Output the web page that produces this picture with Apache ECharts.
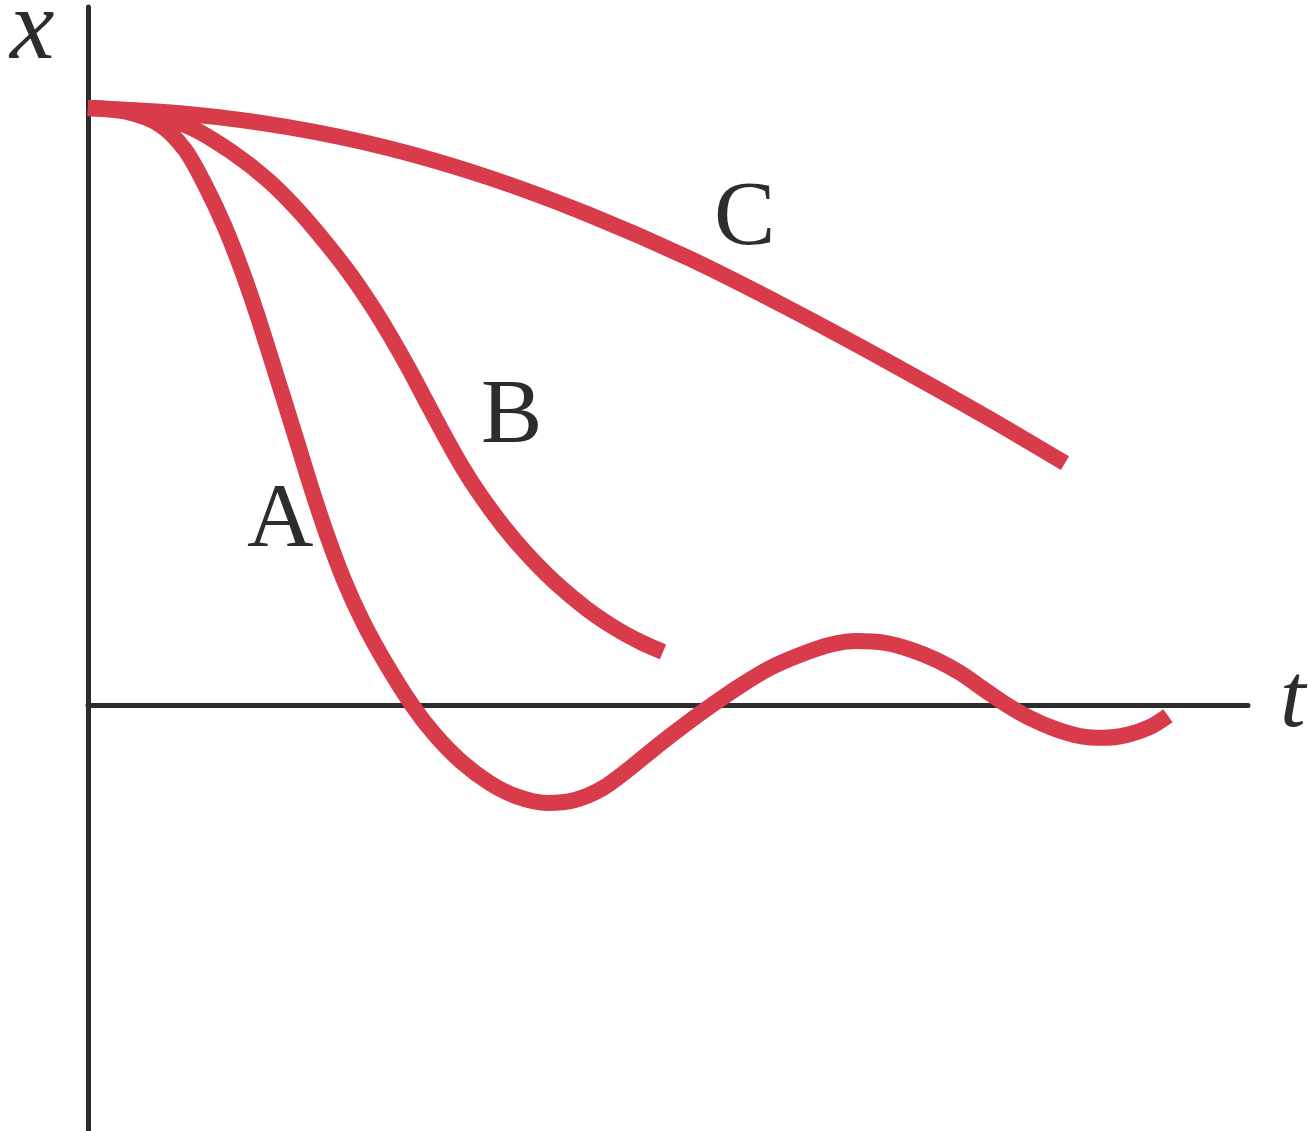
<!DOCTYPE html>
<html>
<head>
<meta charset="utf-8">
<title>Damped oscillator: displacement vs time</title>
<script src="https://cdn.jsdelivr.net/npm/echarts@6/dist/echarts.min.js"></script>
<style>
  html, body { margin: 0; padding: 0; background: #ffffff; }
  #chart { width: 1308px; height: 1131px; }
</style>
</head>
<body>
<div id="chart"></div>
<script>
// Displacement x (in units of the initial displacement) against time t.
// A: underdamped, B: critically damped, C: overdamped.
const curveA = [
  [0, 1.000], [3.45, 0.993], [6.21, 0.972], [8.36, 0.930], [10.09, 0.871],
  [11.72, 0.804], [13.19, 0.732], [14.48, 0.660], [15.69, 0.586], [16.90, 0.511],
  [18.10, 0.436], [19.31, 0.360], [20.60, 0.285], [22.07, 0.209], [23.71, 0.139],
  [25.60, 0.072], [27.93, 0.000], [29.91, -0.050], [32.24, -0.096], [34.66, -0.131],
  [37.07, -0.154], [39.57, -0.164], [41.98, -0.159], [44.40, -0.139], [46.72, -0.106],
  [49.05, -0.069], [51.38, -0.034], [53.79, 0.000], [56.21, 0.032], [58.79, 0.062],
  [61.38, 0.084], [63.97, 0.101], [66.29, 0.107], [68.71, 0.104], [71.03, 0.092],
  [73.19, 0.075], [75.17, 0.054], [77.33, 0.025], [79.22, 0.000], [81.21, -0.022],
  [83.36, -0.040], [85.52, -0.052], [87.50, -0.055], [89.57, -0.050], [91.55, -0.037],
  [93.10, -0.018]
];
const curveB = [
  [0, 1.000], [4.48, 0.993], [8.79, 0.968], [12.41, 0.926], [15.52, 0.879],
  [18.10, 0.829], [20.43, 0.776], [22.59, 0.722], [24.48, 0.668], [26.12, 0.616],
  [27.67, 0.563], [29.14, 0.509], [30.60, 0.456], [32.16, 0.402], [33.88, 0.350],
  [35.78, 0.300], [37.93, 0.251], [40.34, 0.204], [42.93, 0.162], [45.43, 0.129],
  [47.59, 0.106], [49.57, 0.089]
];
const curveC = [
  [0, 1.000], [8.62, 0.990], [17.24, 0.968], [25.86, 0.933], [34.48, 0.884],
  [43.10, 0.822], [51.72, 0.749], [60.34, 0.665], [68.97, 0.575], [77.59, 0.481],
  [84.22, 0.405]
];
const curveNames = ['A', 'B', 'C'];
const axisNames = { x: 'x', t: 't' };

const tRange = [0, 100];
const xRange = [-0.7136, 1.1692];

const curveColor = '#d83c4b';
const inkColor = '#2d2d2d';
const serif = 'Liberation Serif';

function curveSeries(name, data) {
  return {
    name: name,
    type: 'line',
    data: data,
    smooth: 0.3,
    showSymbol: false,
    symbol: 'none',
    silent: true,
    lineStyle: { color: curveColor, width: 16, cap: 'butt', join: 'round' },
    z: 3
  };
}

function label(text, left, top, size, italic) {
  return {
    type: 'text',
    left: left,
    top: top,
    silent: true,
    style: {
      text: text,
      fontFamily: serif,
      fontSize: size,
      fontStyle: italic ? 'italic' : 'normal',
      fill: inkColor
    }
  };
}

const chart = echarts.init(document.getElementById('chart'), null, { renderer: 'canvas' });

chart.setOption({
  backgroundColor: '#ffffff',
  animation: false,
  grid: { left: 88, right: 60, top: 7, bottom: 0, containLabel: false },
  xAxis: {
    type: 'value',
    min: tRange[0],
    max: tRange[1],
    axisLine: { show: true, onZero: true, lineStyle: { color: inkColor, width: 5 } },
    axisTick: { show: false },
    axisLabel: { show: false },
    splitLine: { show: false }
  },
  yAxis: {
    type: 'value',
    min: xRange[0],
    max: xRange[1],
    axisLine: { show: true, onZero: true, lineStyle: { color: inkColor, width: 5 } },
    axisTick: { show: false },
    axisLabel: { show: false },
    splitLine: { show: false }
  },
  series: [
    curveSeries(curveNames[0], curveA),
    curveSeries(curveNames[1], curveB),
    curveSeries(curveNames[2], curveC)
  ],
  graphic: [
    label(axisNames.x, 10, -18, 100, true),
    label(axisNames.t, 1280, 656, 92, true),
    label(curveNames[0], 247, 476, 92, false),
    label(curveNames[1], 481, 372, 92, false),
    label(curveNames[2], 714, 174, 92, false)
  ]
});
</script>
</body>
</html>
